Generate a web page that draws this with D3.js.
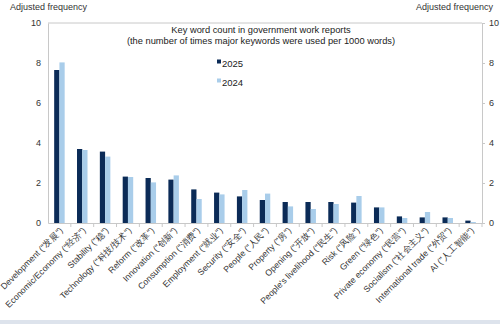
<!DOCTYPE html>
<html><head><meta charset="utf-8">
<script src="https://cdn.jsdelivr.net/npm/d3@7"></script>
<style>
html,body{margin:0;padding:0;background:#fff;}
svg{display:block;font-family:"Liberation Sans",Arial,sans-serif;}
</style></head>
<body>
<script>
const categories = ["Development (\"发展\")","Economic/Economy (\"经济\")","Stability (\"稳\")","Technology (\"科技/技术\")","Reform (\"改革\")","Innovation (\"创新\")","Consumption (\"消费\")","Employment (\"就业\")","Security (\"安全\")","People (\"人民\")","Property (\"房\")","Opening (\"开放\")","People's livelihood (\"民生\")","Risk (\"风险\")","Green (\"绿色\")","Private economy (\"民营\")","Socialism (\"社会主义\")","International trade (\"外贸\")","AI (\"人工智能\")"];
const series2025 = [7.65,3.7,3.57,2.32,2.25,2.17,1.68,1.52,1.33,1.15,1.05,1.05,1.05,1.02,0.78,0.33,0.28,0.28,0.12];
const series2024 = [8.03,3.65,3.32,2.3,2.03,2.38,1.2,1.43,1.65,1.47,0.83,0.7,0.95,1.35,0.78,0.25,0.55,0.25,0.05];
const seriesNames = ["2025","2024"];
const yTicks = [0,2,4,6,8,10];
const titleLines = ["Key word count in government work reports","(the number of times major keywords were used per 1000 words)"];
const axisTitle = "Adjusted frequency";

const W=500,H=324;
const m={l:48,r:18,t:23,b:101};
const colors={"2025":"#0b2b57","2024":"#a9cdea"};

const svg=d3.select("body").append("svg").attr("width",W).attr("height",H);

// bottom strip
svg.append("rect").attr("x",0).attr("y",320).attr("width",W).attr("height",4).attr("fill","#dde3ec");

const x=d3.scaleBand().domain(categories).range([m.l,W-m.r]).paddingInner(0).paddingOuter(0);
const x1=d3.scaleBand().domain(seriesNames).range([0,10.5]);
const y=d3.scaleLinear().domain([0,10]).range([H-m.b,m.t]);

const gridColor="#c8c8c8";
// top border
svg.append("line").attr("x1",m.l).attr("x2",W-m.r).attr("y1",y(10)).attr("y2",y(10)).attr("stroke",gridColor);

// bars
const data=categories.map((c,i)=>({c,v:{"2025":series2025[i],"2024":series2024[i]}}));
const g=svg.append("g");
data.forEach(d=>{
  seriesNames.forEach(s=>{
    const cx=x(d.c)+x.bandwidth()/2-5.25;
    g.append("rect").attr("x",cx+x1(s)).attr("width",x1.bandwidth())
     .attr("y",y(d.v[s])).attr("height",y(0)-y(d.v[s])).attr("fill",colors[s]);
  });
});

// left axis
const la=svg.append("g").attr("transform",`translate(${m.l},0)`)
  .call(d3.axisLeft(y).tickValues(yTicks).tickSize(0).tickPadding(7));
la.select(".domain").attr("stroke",gridColor);
la.selectAll("text").attr("font-size",9).attr("fill","#333");

// right axis
const ra=svg.append("g").attr("transform",`translate(${W-m.r},0)`)
  .call(d3.axisRight(y).tickValues(yTicks).tickSize(3).tickSizeOuter(0).tickPadding(4));
ra.select(".domain").attr("stroke",gridColor);
ra.selectAll(".tick line").attr("stroke",gridColor);
ra.selectAll("text").attr("font-size",9).attr("fill","#333");

// bottom axis
const ba=svg.append("g").attr("transform",`translate(0,${y(0)})`)
  .call(d3.axisBottom(x).tickSize(0).tickFormat(""));
ba.select(".domain").attr("stroke",gridColor);
categories.forEach((c,i)=>{
  if(i>0) svg.append("line").attr("x1",x(c)).attr("x2",x(c)).attr("y1",y(0)).attr("y2",y(0)+4).attr("stroke",gridColor);
});
svg.append("line").attr("x1",W-m.r).attr("x2",W-m.r).attr("y1",y(0)).attr("y2",y(0)+4).attr("stroke",gridColor);

// x labels
svg.append("g").selectAll("text").data(categories).join("text")
  .attr("transform",d=>`translate(${x(d)+x.bandwidth()/2+4},${y(0)+8}) rotate(-45)`)
  .attr("text-anchor","end").attr("font-size",8.7).attr("fill","#333").text(d=>d);

// axis titles
svg.append("text").attr("x",10).attr("y",10).attr("font-size",9).attr("fill","#333").text(axisTitle);
svg.append("text").attr("x",493).attr("y",10).attr("text-anchor","end").attr("font-size",9).attr("fill","#333").text(axisTitle);

// title
titleLines.forEach((t,i)=>{
  svg.append("text").attr("x",261).attr("y",33+i*11).attr("text-anchor","middle").attr("font-size",9.3).attr("fill","#222").text(t);
});

// legend
seriesNames.forEach((s,i)=>{
  const ly=63+i*19;
  svg.append("rect").attr("x",217).attr("y",ly-3.5).attr("width",4).attr("height",4).attr("fill",colors[s]);
  svg.append("text").attr("x",222).attr("y",ly+1).attr("dominant-baseline","middle").attr("font-size",9.5).attr("fill","#222").text(s);
});
</script>
</body></html>
